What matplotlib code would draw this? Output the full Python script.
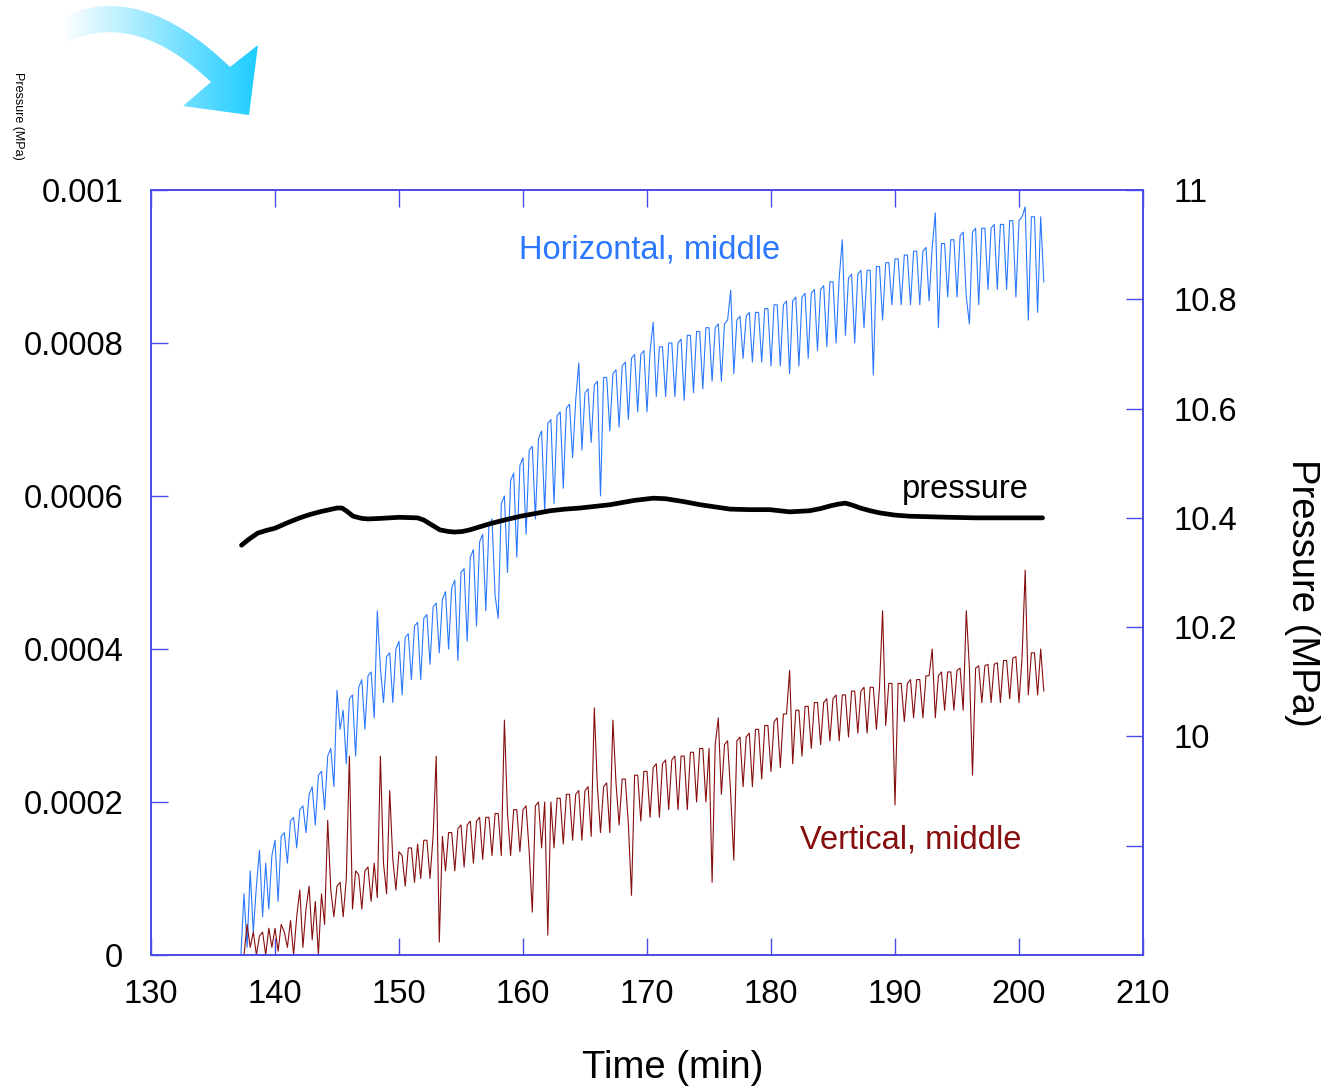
import matplotlib
matplotlib.use("Agg")
import matplotlib.pyplot as plt
import numpy as np
from matplotlib.path import Path
from matplotlib.patches import PathPatch

plt.rcParams['font.family'] = ['Liberation Sans', 'DejaVu Sans']

# strain, horizontal middle gauge (x1e-4), sampled every 0.25 min from 137.25
horizontal = [
    0.0, 0.8, 0.1, 1.1, 0.3, 0.9, 1.37, 0.5,
    1.2, 0.6, 1.3, 1.5, 0.7, 1.55, 1.6, 1.2,
    1.75, 1.8, 1.4, 1.9, 1.95, 1.6, 2.1, 2.2,
    1.7, 2.35, 2.4, 1.9, 2.6, 2.7, 2.2, 3.46,
    2.95, 3.2, 2.5, 3.35, 3.4, 2.6, 3.5, 3.6,
    2.95, 3.65, 3.7, 3.1, 4.5, 3.75, 3.3, 3.9,
    3.95, 3.3, 4.0, 4.1, 3.4, 4.15, 4.2, 3.6,
    4.3, 4.35, 3.6, 4.4, 4.45, 3.8, 4.55, 4.6,
    3.95, 4.65, 4.75, 4.0, 4.8, 4.9, 3.85, 5.0,
    5.05, 4.1, 5.2, 5.3, 4.3, 5.4, 5.5, 4.5,
    5.6, 5.7, 4.7, 4.4, 5.9, 6.0, 5.0, 6.2,
    6.3, 5.2, 6.4, 6.5, 5.5, 6.6, 6.65, 5.7,
    6.75, 6.85, 5.8, 6.95, 7.0, 5.9, 7.05, 7.1,
    6.1, 7.15, 7.2, 6.5, 7.25, 7.74, 6.6, 7.35,
    7.4, 6.7, 7.45, 7.5, 6.0, 7.55, 7.55, 6.85,
    7.6, 7.65, 6.9, 7.7, 7.75, 7.0, 7.8, 7.85,
    7.1, 7.85, 7.9, 7.1, 7.9, 8.27, 7.3, 7.95,
    7.95, 7.3, 8.0, 8.0, 7.3, 8.0, 8.05, 7.25,
    8.1, 8.1, 7.35, 8.15, 8.15, 7.4, 8.2, 8.2,
    7.5, 8.2, 8.25, 7.5, 8.25, 8.3, 8.69, 7.6,
    8.3, 8.35, 7.8, 8.35, 8.4, 7.75, 8.4, 8.4,
    7.75, 8.45, 8.45, 7.7, 8.5, 8.5, 7.7, 8.5,
    8.55, 7.6, 8.55, 8.6, 7.7, 8.6, 8.65, 7.8,
    8.65, 8.7, 7.9, 8.7, 8.75, 7.95, 8.8, 8.8,
    8.0, 8.85, 9.35, 8.1, 8.85, 8.9, 8.0, 8.9,
    8.95, 8.2, 8.95, 8.95, 7.58, 9.0, 9.0, 8.3,
    9.05, 9.05, 8.5, 9.1, 9.1, 8.5, 9.15, 9.15,
    8.5, 9.2, 9.2, 8.5, 9.2, 9.25, 8.55, 9.25,
    9.7, 8.2, 9.3, 9.3, 8.6, 9.35, 9.35, 8.6,
    9.4, 9.45, 8.6, 8.25, 9.45, 9.5, 8.5, 9.5,
    9.5, 8.7, 9.5, 9.55, 8.7, 9.55, 9.55, 8.7,
    9.6, 9.6, 8.6, 9.6, 9.65, 9.78, 8.3, 9.65,
    9.65, 8.4, 9.65, 8.8,
]

# strain, vertical middle gauge (x1e-4), sampled every 0.25 min from 137.5
vertical = [
    0.0, 0.4, 0.1, 0.3, 0.0, 0.25, 0.3, 0.0,
    0.35, 0.1, 0.35, 0.05, 0.4, 0.3, 0.1, 0.45,
    0.0, 0.5, 0.85, 0.1, 0.6, 0.9, 0.2, 0.7,
    0.0, 0.8, 0.4, 1.76, 0.85, 0.5, 0.9, 0.95,
    0.5, 1.0, 2.6, 0.6, 1.1, 1.05, 0.6, 1.1,
    1.15, 0.7, 1.2, 0.75, 2.6, 1.2, 0.8, 2.15,
    1.25, 0.85, 1.35, 1.3, 0.9, 1.4, 1.4, 0.95,
    1.45, 1.0, 1.5, 1.5, 1.0, 1.55, 2.6, 0.17,
    1.55, 1.1, 1.6, 1.6, 1.1, 1.65, 1.7, 1.15,
    1.7, 1.75, 1.2, 1.75, 1.8, 1.25, 1.8, 1.8,
    1.3, 1.85, 1.85, 1.3, 3.07, 1.85, 1.3, 1.9,
    1.9, 1.35, 1.9, 1.95, 1.35, 0.56, 1.95, 2.0,
    1.4, 2.0, 0.26, 2.0, 1.4, 2.05, 2.05, 1.45,
    2.1, 2.1, 1.5, 2.1, 2.15, 1.5, 2.15, 2.2,
    1.55, 3.23, 2.2, 1.6, 2.2, 2.25, 1.6, 3.07,
    2.25, 1.7, 2.3, 2.3, 1.7, 0.78, 2.35, 2.35,
    1.75, 2.4, 2.4, 1.8, 2.45, 2.5, 1.8, 2.5,
    2.55, 1.9, 2.55, 2.6, 1.9, 2.6, 2.6, 1.9,
    2.65, 2.65, 2.0, 2.7, 2.7, 2.0, 2.7, 0.95,
    2.75, 3.1, 2.1, 2.75, 2.8, 2.1, 1.24, 2.8,
    2.85, 2.2, 2.85, 2.9, 2.2, 2.95, 2.95, 2.3,
    3.0, 3.0, 2.4, 3.05, 3.1, 2.45, 3.15, 3.15,
    3.72, 2.5, 3.2, 3.2, 2.6, 3.25, 3.25, 2.7,
    3.3, 3.3, 2.75, 3.3, 3.35, 2.8, 3.35, 3.4,
    2.8, 3.4, 3.4, 2.85, 3.45, 3.45, 2.9, 3.45,
    3.5, 2.9, 3.5, 3.5, 2.95, 3.5, 4.5, 3.0,
    3.55, 3.55, 1.96, 3.55, 3.55, 3.05, 3.55, 3.6,
    3.1, 3.6, 3.6, 3.1, 3.65, 3.65, 4.0, 3.1,
    3.65, 3.7, 3.2, 3.7, 3.7, 3.2, 3.72, 3.75,
    3.2, 4.5, 3.75, 2.35, 3.75, 3.78, 3.3, 3.78,
    3.8, 3.3, 3.8, 3.82, 3.3, 3.85, 3.85, 3.35,
    3.88, 3.9, 3.3, 3.9, 5.03, 3.4, 3.95, 3.95,
    3.4, 4.0, 3.45,
]

p_time = [137.3, 137.9, 138.6, 139.3, 140.0, 141.0, 142.0, 142.8, 143.6, 144.4,
          145.0, 145.4, 145.8, 146.3, 147.0, 147.5, 148.5, 150.0, 151.5, 152.0,
          152.5, 153.3, 154.0, 154.5, 155.1, 155.7, 157.3, 158.5, 159.8, 161.0,
          162.2, 163.4, 164.6, 165.8, 167.0, 168.0, 169.0, 170.5, 171.5, 172.9,
          174.3, 175.5, 176.7, 178.3, 179.9, 181.5, 183.1, 184.0, 184.8, 185.4,
          186.0, 186.6, 187.2, 188.0, 188.8, 190.0, 191.2, 192.8, 194.4, 196.5,
          198.5, 200.2, 201.9]
pressure = [10.350, 10.361, 10.372, 10.377, 10.381, 10.391, 10.400, 10.406, 10.411, 10.415,
            10.418, 10.418, 10.412, 10.403, 10.399, 10.398, 10.399, 10.401, 10.400, 10.396,
            10.389, 10.378, 10.375, 10.374, 10.375, 10.378, 10.389, 10.396, 10.403, 10.408,
            10.413, 10.416, 10.418, 10.421, 10.424, 10.428, 10.432, 10.436, 10.435, 10.430,
            10.424, 10.420, 10.416, 10.415, 10.415, 10.411, 10.413, 10.417, 10.422, 10.425,
            10.427, 10.423, 10.418, 10.413, 10.409, 10.405, 10.403, 10.402, 10.401, 10.400,
            10.400, 10.400, 10.400]

x_ticks = [130, 140, 150, 160, 170, 180, 190, 200, 210]
left_ticks = [0, 0.0002, 0.0004, 0.0006, 0.0008, 0.001]
left_labels = ['0', '0.0002', '0.0004', '0.0006', '0.0008', '0.001']
right_ticks = [9.8, 10.0, 10.2, 10.4, 10.6, 10.8, 11.0]
right_labels = ['', '10', '10.2', '10.4', '10.6', '10.8', '11']

t_h = 137.25 + 0.25 * np.arange(len(horizontal))
t_v = 137.5 + 0.25 * np.arange(len(vertical))
h = np.array(horizontal) * 1e-4
v = np.array(vertical) * 1e-4

blue = '#2b78ff'
red = '#860e0e'
frame = '#4a4ae6'

fig = plt.figure(figsize=(13.28, 10.9), dpi=100)

# decorative curved arrow with gradient (top-left)
deco = fig.add_axes([0, 0, 1, 1], zorder=-1)
verts = [(63, 17), (140, -20), (230, 67), (258, 45), (249, 115), (183, 106),
         (211, 82), (135, 10), (67, 42), (63, 17)]
codes = [Path.MOVETO, Path.CURVE3, Path.CURVE3, Path.LINETO, Path.LINETO,
         Path.LINETO, Path.LINETO, Path.CURVE3, Path.CURVE3, Path.CLOSEPOLY]
patch = PathPatch(Path(verts, codes), facecolor='none', edgecolor='none')
deco.add_patch(patch)
grad = np.linspace(0, 1, 256)
c0 = np.array([1.0, 1.0, 1.0])
c1 = np.array([0.10, 0.80, 1.0])
img = (c0[None, :] * (1 - grad[:, None]) + c1[None, :] * grad[:, None])[None, :, :]
im = deco.imshow(img, extent=(63, 260, 120, -5), aspect='auto')
im.set_clip_path(patch)
deco.set_xlim(0, 1328)
deco.set_ylim(1090, 0)
deco.axis('off')

fig.text(18 / 1328, 1 - 116 / 1090, 'Pressure (MPa)', rotation=270,
         fontsize=9, ha='center', va='center')

ax = fig.add_axes([151 / 1328, 135 / 1090, 992 / 1328, 765 / 1090])
ax2 = ax.twinx()

ax.plot(t_h, h, color=blue, lw=0.8)
ax.plot(t_v, v, color=red, lw=0.8)
ax2.plot(p_time, pressure, color='black', lw=3.4, solid_capstyle='round')

ax.set_xlim(130, 210)
ax.set_ylim(0, 0.001)
ax2.set_ylim(9.6, 11)
ax.set_xticks(x_ticks)
ax.set_xticklabels([str(x) for x in x_ticks])
ax.set_yticks(left_ticks)
ax.set_yticklabels(left_labels)
ax2.set_yticks(right_ticks)
ax2.set_yticklabels(right_labels)

for a in (ax, ax2):
    for s in a.spines.values():
        s.set_color(frame)
        s.set_linewidth(1.2)
ax.tick_params(axis='x', direction='in', length=12, width=1, color=frame,
               top=True, labelsize=23.5, pad=17)
ax.tick_params(axis='y', direction='in', length=12, width=1, color=frame,
               labelsize=23.5, pad=20)
ax2.tick_params(axis='y', direction='in', length=12, width=1, color=frame,
                labelsize=23.5, pad=22)

ax.text(170.2, 0.000922, 'Horizontal, middle', color=blue, fontsize=23.5,
        ha='center', va='center')
ax.text(191.3, 0.00015, 'Vertical, middle', color=red, fontsize=23.5,
        ha='center', va='center')
ax.text(195.7, 0.000608, 'pressure', color='black', fontsize=23.5,
        ha='center', va='center')

fig.text(673 / 1328, 1 - 1068 / 1090, 'Time (min)', fontsize=27.5,
         ha='center', va='center')
fig.text(1302 / 1328, 1 - 593 / 1090, 'Pressure (MPa)', fontsize=27.5,
         rotation=270, ha='center', va='center')

fig.savefig('out.png', dpi=100)
